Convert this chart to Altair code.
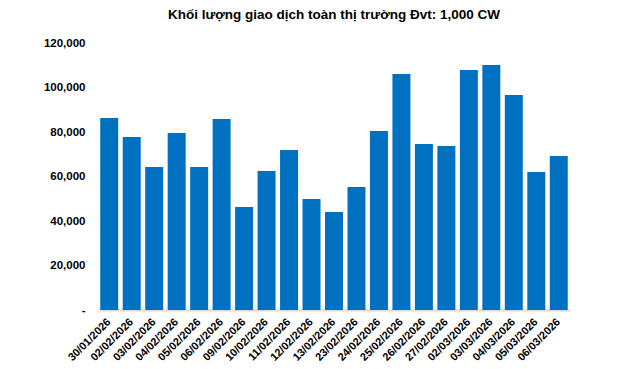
import altair as alt
import pandas as pd

dates = ["30/01/2026", "02/02/2026", "03/02/2026", "04/02/2026", "05/02/2026",
         "06/02/2026", "09/02/2026", "10/02/2026", "11/02/2026", "12/02/2026",
         "13/02/2026", "23/02/2026", "24/02/2026", "25/02/2026", "26/02/2026",
         "27/02/2026", "02/03/2026", "03/03/2026", "04/03/2026", "05/03/2026",
         "06/03/2026"]
volumes = [86300, 77800, 64300, 79600, 64300, 85800, 46300, 62500, 71900, 49900,
           44000, 55300, 80400, 106100, 74600, 73700, 107900, 110100, 96600, 62000,
           69200]
y_ticks = [0, 20000, 40000, 60000, 80000, 100000, 120000]

df = pd.DataFrame({"date": dates, "volume": volumes})

FONT = "Liberation Sans"

chart = alt.Chart(df).mark_bar(color="#0070C0").encode(
    x=alt.X("date:N", sort=None, title=None,
            scale=alt.Scale(paddingInner=0.2, paddingOuter=0.1),
            axis=alt.Axis(labelAngle=-45, labelAlign="right", labelBaseline="middle",
                          labelFont=FONT, labelFontWeight="bold", labelFontSize=11,
                          labelColor="black", labelPadding=10,
                          ticks=False, tickSize=0, domainColor="#d9d9d9", domainWidth=2)),
    y=alt.Y("volume:Q", title=None,
            scale=alt.Scale(domain=[0, 120000], nice=False),
            axis=alt.Axis(values=y_ticks, grid=False, domain=False, ticks=False, tickSize=0,
                          labelExpr="datum.value == 0 ? '-' : format(datum.value, ',')",
                          labelFont=FONT, labelFontWeight="bold", labelFontSize=11.5,
                          labelColor="black", labelPadding=13)),
).properties(
    width=472, height=267,
    title=alt.Title("Khối lượng giao dịch toàn thị trường Đvt: 1,000 CW",
                    font=FONT, fontSize=13.5, fontWeight="bold", color="black",
                    anchor="middle", offset=16),
    autosize=alt.AutoSizeParams(type="none"),
    padding={"left": 90, "top": 35, "right": 62, "bottom": 53},
).configure_view(stroke=None)

chart.save("out.html", embed_options={"renderer": "svg", "actions": False})
